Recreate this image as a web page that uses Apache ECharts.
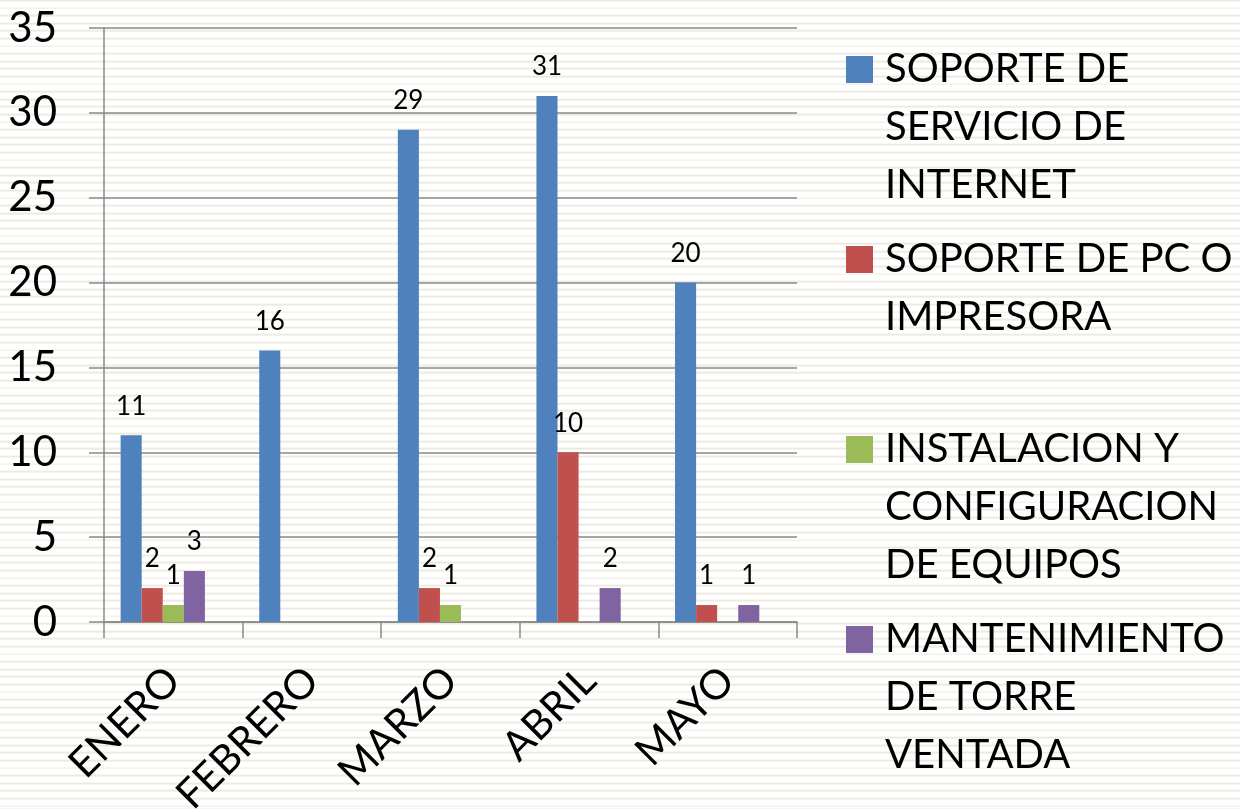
<!DOCTYPE html>
<html>
<head>
<meta charset="utf-8">
<script src="https://cdn.jsdelivr.net/npm/echarts@6/dist/echarts.min.js"></script>
<style>
  html, body { margin: 0; padding: 0; width: 1240px; height: 809px; overflow: hidden;
    background: repeating-linear-gradient(to bottom, #EEEADF 0px, #EEEADF 1.8px, #ffffff 1.8px, #ffffff 7.6px);
    background-position: 0 -0.4px; }
  #chart { width: 1240px; height: 809px; }
</style>
</head>
<body>
<div id="chart"></div>
<script>
var categories = ['ENERO', 'FEBRERO', 'MARZO', 'ABRIL', 'MAYO'];
var seriesNames = [
  'SOPORTE DE\nSERVICIO DE\nINTERNET',
  'SOPORTE DE PC O\nIMPRESORA',
  'INSTALACION Y\nCONFIGURACION\nDE EQUIPOS',
  'MANTENIMIENTO\nDE TORRE\nVENTADA'
];
var internet = [11, 16, 29, 31, 20];
var pcImpresora = [2, null, 2, 10, 1];
var instalacion = [1, null, 1, null, null];
var mantenimiento = [3, null, null, 2, 1];
var emptySeries = [null, null, null, null, null];
var yTicks = { min: 0, max: 35, interval: 5 };

var colors = ['#4F81BD', '#C0504D', '#9BBB59', '#8064A2'];
var seriesData = [internet, pcImpresora, instalacion, mantenimiento];
var FONT = 'Lato';
var LH = 58;
var ICON = 27;
var ICON_OFF = 15.5;
var legendIconTops = [56, 246, 436, 626];

var series = seriesData.map(function (d, i) {
  return {
    name: seriesNames[i],
    type: 'bar',
    data: d,
    barGap: '0%',
    barCategoryGap: '24%',
    itemStyle: { color: colors[i] },
    label: {
      show: true, position: 'top', distance: 16,
      color: '#000', fontFamily: FONT, fontSize: 26
    }
  };
});
series.push({ name: 'extra', type: 'bar', data: emptySeries, barGap: '0%', barCategoryGap: '24%', silent: true });

var legends = seriesNames.map(function (name, i) {
  var n = name.split('\n').length;
  var h = n * LH;
  var iconPath = 'path://M0,' + ICON_OFF + 'H' + ICON + 'V' + (ICON_OFF + ICON) + 'H0Z M0,0L0,' + h;
  return {
    data: [{ name: name, icon: iconPath }],
    orient: 'vertical',
    left: 846,
    top: legendIconTops[i] - ICON_OFF,
    padding: 0,
    itemWidth: ICON,
    itemHeight: h,
    textStyle: {
      fontFamily: FONT, fontSize: 40, color: '#000', lineHeight: LH,
      padding: [0, 0, 0, 7]
    }
  };
});

var chart = echarts.init(document.getElementById('chart'), null, { renderer: 'canvas', width: 1240, height: 809 });
chart.setOption({
  backgroundColor: 'transparent',
  animation: false,
  color: colors,
  grid: { left: 104, right: 443, top: 28, bottom: 187, containLabel: false, outerBoundsMode: 'none' },
  legend: legends,
  xAxis: {
    type: 'category',
    data: categories,
    axisLine: { lineStyle: { color: '#898989', width: 1.5 } },
    axisTick: { show: true, length: 16, lineStyle: { color: '#898989', width: 1.5 } },
    axisLabel: { rotate: 45, margin: 52, color: '#000', fontFamily: FONT, fontSize: 41, interval: 0 }
  },
  yAxis: {
    type: 'value',
    min: yTicks.min, max: yTicks.max, interval: yTicks.interval,
    axisLine: { show: true, lineStyle: { color: '#898989', width: 1.5 } },
    axisTick: { show: true, length: 15, lineStyle: { color: '#898989', width: 1.5 } },
    splitLine: { show: true, lineStyle: { color: '#898989', width: 1.5 } },
    axisLabel: { margin: 47, color: '#000', fontFamily: FONT, fontSize: 42 }
  },
  series: series
});
</script>
</body>
</html>
